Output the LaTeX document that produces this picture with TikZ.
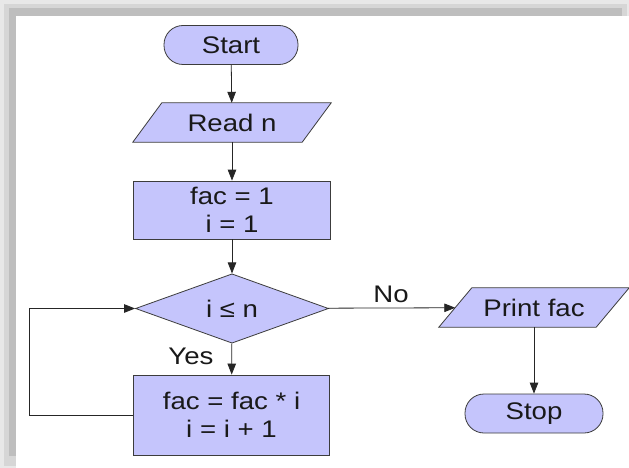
\documentclass[tikz,border=0pt]{standalone}
\usepackage{fontspec}
\setmainfont{Liberation Sans}[FakeStretch=1.15]
\usetikzlibrary{shapes.geometric,arrows.meta}
\definecolor{boxfill}{RGB}{197,197,252}
\definecolor{boxline}{RGB}{60,60,60}
\definecolor{shadeA}{RGB}{232,232,232}
\definecolor{shadeB}{RGB}{214,214,214}
\definecolor{shadeC}{RGB}{190,190,190}
\tikzset{
  base/.style={font=\fontsize{24}{28.5}\selectfont, text=black!90, inner sep=0pt, align=center},
  terminal/.style={base, draw=boxline, fill=boxfill, line width=0.8pt, rounded corners=19pt, minimum height=39pt},
  procbox/.style={base, draw=boxline, fill=boxfill, line width=0.8pt},
  decbox/.style={base, shape=diamond, draw=boxline, fill=boxfill, line width=0.8pt},
  iobox/.style={base, minimum height=39pt},
  conn/.style={line width=0.8pt, draw=black!85, -{Triangle[length=11pt,width=8.5pt]}},
  lbl/.style={font=\fontsize{24}{28}\selectfont, text=black!90, inner sep=0pt},
}
\newcommand{\iopara}[2]{%
  \path[draw=boxline, fill=boxfill, line width=0.8pt]
    ([xshift=-#2/2]#1.south west) -- ([xshift=#2/2]#1.north west) --
    ([xshift=#2/2]#1.north east) -- ([xshift=-#2/2]#1.south east) -- cycle;}
\begin{document}
\begin{tikzpicture}[x=1pt,y=-1pt]
\useasboundingbox (0,0) rectangle (629,468);
\fill[white] (0,0) rectangle (629,468);
% shadow frame
\fill[shadeA] (0,0) rectangle (629,16);
\fill[shadeA] (0,0) rectangle (16,468);
\fill[shadeB] (4,4) rectangle (627,16);
\fill[shadeB] (4,4) rectangle (16,466);
\fill[shadeC] (9,8) rectangle (622,16);
\fill[shadeC] (9,8) rectangle (16,456);
\fill[white] (16,16) rectangle (629,468);

% nodes
\node[terminal, minimum width=134pt] (start) at (231,45) {Start};
\node[iobox, minimum width=169pt] (read) at (232,122.5) {};
\iopara{read}{29pt}
\node[base] at (read) {Read n};
\node[procbox, minimum width=197pt, minimum height=58pt] (init) at (232,210) {fac = 1\\i = 1};
\node[decbox, minimum width=193pt, minimum height=53pt] (dec) at (232,308.5) {i ≤ n};
\node[procbox, minimum width=196pt, minimum height=80pt] (body) at (231.5,415) {fac = fac * i\\i = i + 1};
\node[iobox, minimum width=157pt] (print) at (534,307.5) {};
\iopara{print}{33pt}
\node[base] at (print) {Print fac};
\node[terminal, minimum width=138pt] (stop) at (534,413.5) {Stop};

% connectors
\draw[conn] (start) -- (read);
\draw[conn] (read) -- (init);
\draw[conn] (init) -- (dec);
\draw[conn] (dec) -- (body);
\draw[conn] (dec) -- (print);
\draw[conn] (print) -- (stop);
\coordinate (loopc) at (29,415);
\draw[conn] (body.west) -- (loopc) |- (dec.west);

% labels
\node[lbl] (yes) at (191,356) {Yes};
\node[lbl] (no) at (391,294) {No};
\end{tikzpicture}
\end{document}
